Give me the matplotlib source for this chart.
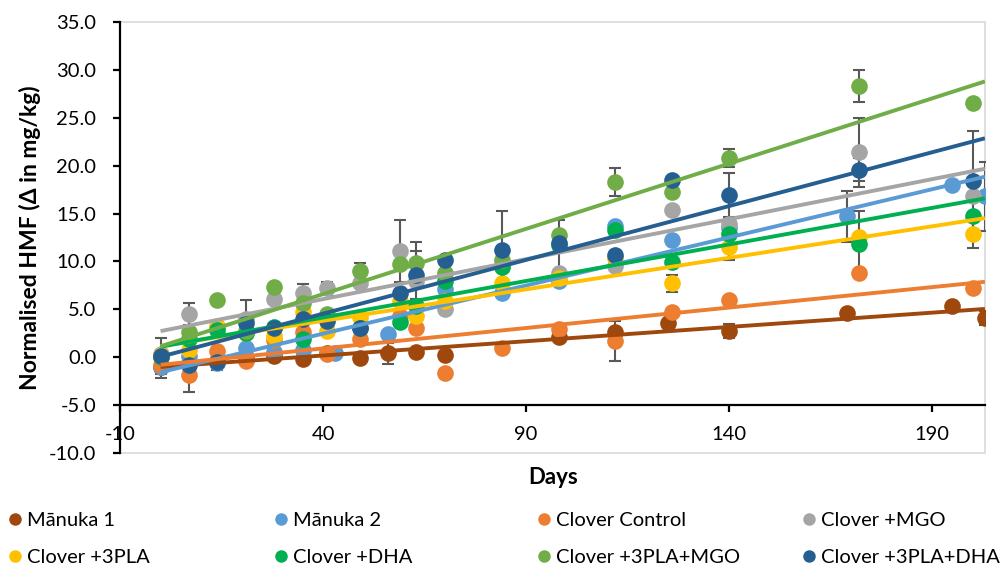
import numpy as np
import matplotlib.pyplot as plt
from matplotlib.lines import Line2D
from matplotlib.patches import Rectangle

plt.rcParams['font.family'] = ['Lato', 'DejaVu Sans']
plt.rcParams['axes.unicode_minus'] = False

names = ['Mānuka 1', 'Mānuka 2', 'Clover Control', 'Clover +MGO',
         'Clover +3PLA', 'Clover +DHA', 'Clover +3PLA+MGO', 'Clover +3PLA+DHA']
colors = ['#9E480E', '#5B9BD5', '#ED7D31', '#A5A5A5',
          '#FFC000', '#00B050', '#70AD47', '#255E91']

# Manuka honeys
m1_days = [0, 7, 14, 21, 28, 35, 41, 49, 56, 63, 70, 98, 112, 125, 140, 169, 195, 203]
m1_hmf = [-1.0, -0.6, -0.4, -0.1, 0.1, -0.2, 0.4, -0.1, 0.4, 0.5, 0.2, 2.1, 2.6, 3.6, 2.75, 4.6, 5.3, 4.1]
m1_err = [1.2, 0, 0, 0, 0, 0, 0, 0, 1.1, 0, 0, 0, 0, 0, 0.75, 0, 0, 0.7]

m2_days = [0, 7, 14, 21, 28, 35, 43, 56, 70, 84, 98, 112, 126, 140, 169, 195, 203]
m2_hmf = [-1.0, 0.1, -0.6, 1.0, 0.5, 0.8, 0.4, 2.4, 7.1, 6.7, 8.0, 13.7, 12.2, 13.5, 14.7, 18.0, 16.8]
m2_err = [0, 0, 0, 0, 0, 0, 0, 0, 0, 0, 0, 0, 0, 0, 2.65, 0, 3.6]

# Clover honeys, shared sampling days
clover_days = [0, 7, 14, 21, 28, 35, 41, 49, 59, 63, 70, 84, 98, 112, 126, 140, 172, 200]

cc_hmf = [-0.8, -1.9, 0.65, -0.4, 1.8, 2.6, 0.3, 1.9, 4.3, 3.0, -1.7, 1.0, 2.9, 1.7, 4.7, 6.0, 8.75, 7.25]
cc_err = [0, 1.7, 0, 0, 0, 0, 0, 0, 0, 0, 0, 0, 0, 2.1, 0, 0, 0, 0]

mgo_hmf = [0.3, 4.5, 3.2, 4.0, 6.1, 6.7, 7.2, 7.8, 11.1, 8.0, 5.0, 9.5, 8.8, 9.5, 15.4, 13.9, 21.4, 16.8]
mgo_err = [0, 1.15, 0, 2.0, 0, 0.9, 0.7, 0, 3.2, 0, 0, 0, 0, 0, 0, 0, 3.6, 0]

pla_hmf = [0.2, 0.8, 3.3, 2.5, 2.2, 4.7, 2.7, 4.2, 5.9, 4.3, 5.9, 7.7, 8.3, 10.4, 7.7, 11.5, 12.6, 12.9]
pla_err = [0, 0, 0, 0, 0, 0, 0, 0, 0, 0, 0, 0, 0, 0, 0.9, 1.3, 0, 1.5]

dha_hmf = [0.0, 1.9, 2.8, 2.5, 3.2, 1.9, 4.2, 3.1, 3.7, 5.3, 8.0, 9.4, 11.7, 13.3, 9.9, 12.9, 11.8, 14.7]
dha_err = [0, 0, 0, 0, 0, 0, 0, 0, 0, 0, 0, 0, 2.6, 0, 0, 0, 3.5, 0]

pla_mgo_hmf = [0.0, 2.6, 6.0, 2.7, 7.3, 5.7, 4.5, 9.0, 9.7, 9.8, 8.8, 10.2, 12.8, 18.3, 17.2, 20.8, 28.3, 26.5]
pla_mgo_err = [0, 0, 0, 0, 0, 0, 0, 0.8, 0, 2.2, 0, 0, 0, 1.5, 0, 0.9, 1.7, 0]

pla_dha_hmf = [0.1, -0.8, -0.5, 3.6, 3.1, 4.0, 3.8, 3.1, 6.7, 8.6, 10.2, 11.2, 11.9, 10.7, 18.5, 16.9, 19.6, 18.4]
pla_dha_err = [1.9, 0, 0.8, 0, 0, 0, 0, 0, 0, 2.5, 0, 4.1, 0, 0, 0, 2.3, 1.2, 5.2]

series = [
    (m1_days, m1_hmf, m1_err),
    (m2_days, m2_hmf, m2_err),
    (clover_days, cc_hmf, cc_err),
    (clover_days, mgo_hmf, mgo_err),
    (clover_days, pla_hmf, pla_err),
    (clover_days, dha_hmf, dha_err),
    (clover_days, pla_mgo_hmf, pla_mgo_err),
    (clover_days, pla_dha_hmf, pla_dha_err),
]

fig = plt.figure(figsize=(10.04, 5.69), dpi=100)
ax = fig.add_axes([0.1195, 0.2039, 0.8615, 0.7574])

x_min, x_max = -10, 203
for (days, hmf, err), color in zip(series, colors):
    days = np.array(days, dtype=float)
    hmf = np.array(hmf, dtype=float)
    err = np.array(err, dtype=float)
    has_err = err > 0
    ax.errorbar(days[has_err], hmf[has_err], yerr=err[has_err], fmt='none',
                ecolor='#595959', elinewidth=1.5, capsize=4.5, capthick=1.5, zorder=2)
    ax.plot(days, hmf, 'o', color=color, markersize=12, markeredgewidth=0, zorder=3)

# linear trendlines drawn over the points
for (days, hmf, err), color in zip(series, colors):
    slope, icpt = np.polyfit(days, hmf, 1)
    xs = np.array([0, x_max])
    ax.plot(xs, slope * xs + icpt, color=color, lw=2.8, zorder=4,
            solid_capstyle='butt')

ax.set_xlim(x_min, x_max)
ax.set_ylim(-10, 35)
ax.set_xticks(np.arange(-10, 191, 50))
ax.set_yticks(np.arange(-10, 36, 5))
ax.set_yticklabels([f'{v:.1f}' for v in np.arange(-10, 36, 5)])

for side in ['top', 'right']:
    ax.spines[side].set_visible(False)
ax.spines['bottom'].set_position(('data', -5))
ax.spines['bottom'].set_linewidth(1.6)
ax.spines['left'].set_linewidth(1.6)
ax.add_patch(Rectangle((0, 0), 1, 1, transform=ax.transAxes, fill=False,
                       edgecolor='#D9D9D9', lw=1.2, zorder=0, clip_on=False))

ax.tick_params(axis='both', direction='out', length=5, width=1.6,
               labelsize=14.5, colors='black')
ax.tick_params(axis='x', pad=10)
ax.tick_params(axis='y', pad=12)

ax.set_ylabel('Normalised HMF (Δ in mg/kg)', fontsize=16.5, fontweight='bold',
              labelpad=6)
fig.text(0.551, 0.161, 'Days', fontsize=16, fontweight='bold',
         ha='center', va='center')

# legend laid out in four columns of two entries
col_x = [0.003, 0.268, 0.530, 0.794]
for c, x0 in enumerate(col_x):
    handles = [Line2D([], [], marker='o', ls='none', color=colors[i],
                      markersize=9, markeredgewidth=0) for i in (c, c + 4)]
    fig.legend(handles, [names[c], names[c + 4]], loc='upper left',
               bbox_to_anchor=(x0, 0.100), frameon=False, fontsize=14.5,
               handletextpad=0.0, handlelength=1.2, labelspacing=0.97,
               borderaxespad=0, borderpad=0)

fig.savefig('out.png', dpi=100)
